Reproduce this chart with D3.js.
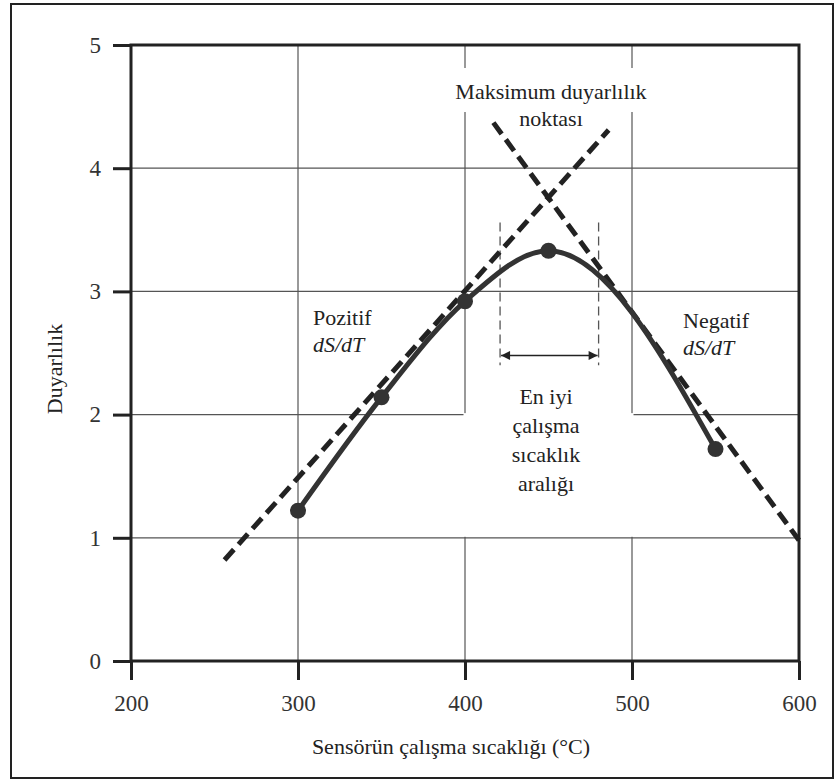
<!DOCTYPE html>
<html>
<head>
<meta charset="utf-8">
<script src="https://cdn.jsdelivr.net/npm/d3@7"></script>
<style>
  body { margin: 0; background: #fff; }
</style>
</head>
<body>
<svg id="chart" width="839" height="782"></svg>
<script>
// data
var temps = [300, 350, 400, 450, 550];
var sens = [1.22, 2.14, 2.92, 3.33, 1.72];
var xTicks = [200, 300, 400, 500, 600];
var yTicks = [0, 1, 2, 3, 4, 5];
// tangent lines (endpoints in data units)
var posTangent = [[256, 0.82], [486, 4.31]];
var negTangent = [[417, 4.37], [600, 0.98]];
// best working range
var bestRange = [421, 480];

var FONT = "'Liberation Serif'";
var svg = d3.select("#chart").style("font-family", FONT);
var x = d3.scaleLinear().domain([200, 600]).range([131, 799]);
var y = d3.scaleLinear().domain([0, 5]).range([661, 45]);

// outer frame
svg.append("rect").attr("x", 11).attr("y", 4).attr("width", 822).attr("height", 774)
  .attr("fill", "none").attr("stroke", "#222").attr("stroke-width", 2);

// grid
var grid = svg.append("g").attr("stroke", "#555").attr("stroke-width", 1.2);
yTicks.slice(1, -1).forEach(function (v) {
  grid.append("line").attr("x1", x(200)).attr("x2", x(600)).attr("y1", y(v)).attr("y2", y(v));
});
xTicks.slice(1, -1).forEach(function (v) {
  grid.append("line").attr("x1", x(v)).attr("x2", x(v)).attr("y1", y(0)).attr("y2", y(5));
});

// blank areas behind the annotations
svg.append("rect").attr("x", x(400) - 1.5).attr("y", y(2) - 1.5)
  .attr("width", x(500) - x(400) + 3).attr("height", y(1) - y(2) + 0.5).attr("fill", "#fff");
svg.append("rect").attr("x", 445).attr("y", 68).attr("width", 212).attr("height", 44).attr("fill", "#fff");

// axes frame
svg.append("rect").attr("x", x(200)).attr("y", y(5)).attr("width", x(600) - x(200)).attr("height", y(0) - y(5))
  .attr("fill", "none").attr("stroke", "#222").attr("stroke-width", 3);

var xAxis = svg.append("g").attr("transform", "translate(0," + y(0) + ")")
  .call(d3.axisBottom(x).tickValues(xTicks).tickFormat(d3.format("d")).tickSize(19).tickPadding(15));
var yAxis = svg.append("g").attr("transform", "translate(" + x(200) + ",0)")
  .call(d3.axisLeft(y).tickValues(yTicks).tickFormat(d3.format("d")).tickSize(18).tickPadding(12));
[xAxis, yAxis].forEach(function (a) {
  a.attr("font-family", null);
  a.select(".domain").remove();
  a.selectAll(".tick line").attr("stroke", "#222").attr("stroke-width", 3);
  a.selectAll(".tick text").style("font-family", FONT)
    .style("font-size", "23px").attr("fill", "#333");
});

function txt(sel) {
  return sel.append("text").style("font-family", FONT).style("font-size", "22px").attr("fill", "#222");
}

// axis titles
txt(svg).attr("x", 451).attr("y", 754).attr("text-anchor", "middle")
  .text("Sensörün çalışma sıcaklığı (°C)");
txt(svg).attr("transform", "translate(62,369) rotate(-90)").attr("text-anchor", "middle")
  .text("Duyarlılık");

// best range markers
var rng = svg.append("g");
bestRange.forEach(function (v) {
  rng.append("line").attr("x1", x(v)).attr("x2", x(v)).attr("y1", y(3.56)).attr("y2", y(2.4))
    .attr("stroke", "#555").attr("stroke-width", 1.3).attr("stroke-dasharray", "9,5");
});
svg.append("defs").append("marker").attr("id", "ah").attr("viewBox", "0 0 10 10")
  .attr("refX", 10).attr("refY", 5).attr("markerWidth", 14).attr("markerHeight", 9)
  .attr("markerUnits", "userSpaceOnUse").attr("orient", "auto-start-reverse")
  .append("path").attr("d", "M0,0L10,5L0,10Z").attr("fill", "#222");
rng.append("line").attr("x1", x(bestRange[0]) + 1).attr("x2", x(bestRange[1]) - 1)
  .attr("y1", y(2.48)).attr("y2", y(2.48)).attr("stroke", "#222").attr("stroke-width", 1.6)
  .attr("marker-start", "url(#ah)").attr("marker-end", "url(#ah)");

// tangents
var line = d3.line().x(function (d) { return x(d[0]); }).y(function (d) { return y(d[1]); });
[posTangent, negTangent].forEach(function (t) {
  svg.append("path").attr("d", line(t)).attr("fill", "none").attr("stroke", "#222")
    .attr("stroke-width", 5).attr("stroke-dasharray", "14,7");
});

// sensitivity curve
var pts = temps.map(function (t, i) { return [t, sens[i]]; });
svg.append("path").attr("d", line.curve(d3.curveMonotoneX)(pts)).attr("fill", "none")
  .attr("stroke", "#333").attr("stroke-width", 5);
svg.selectAll("circle.pt").data(pts).join("circle").attr("class", "pt")
  .attr("cx", function (d) { return x(d[0]); }).attr("cy", function (d) { return y(d[1]); })
  .attr("r", 8).attr("fill", "#333");

// annotations
function label(lines, cx, y0, dy, anchor) {
  var t = txt(svg).attr("text-anchor", anchor || "middle");
  lines.forEach(function (l, i) {
    var ts = t.append("tspan").attr("x", cx).attr("y", y0 + i * dy).text(l.s);
    if (l.it) ts.style("font-style", "italic");
  });
}
label([{s: "Maksimum duyarlılık"}, {s: "noktası"}], 551, 99, 27);
label([{s: "Pozitif"}, {s: "dS/dT", it: true}], 313, 325, 27, "start");
label([{s: "Negatif"}, {s: "dS/dT", it: true}], 683, 328, 27, "start");
label([{s: "En iyi"}, {s: "çalışma"}, {s: "sıcaklık"}, {s: "aralığı"}], 546, 404, 29);
</script>
</body>
</html>
